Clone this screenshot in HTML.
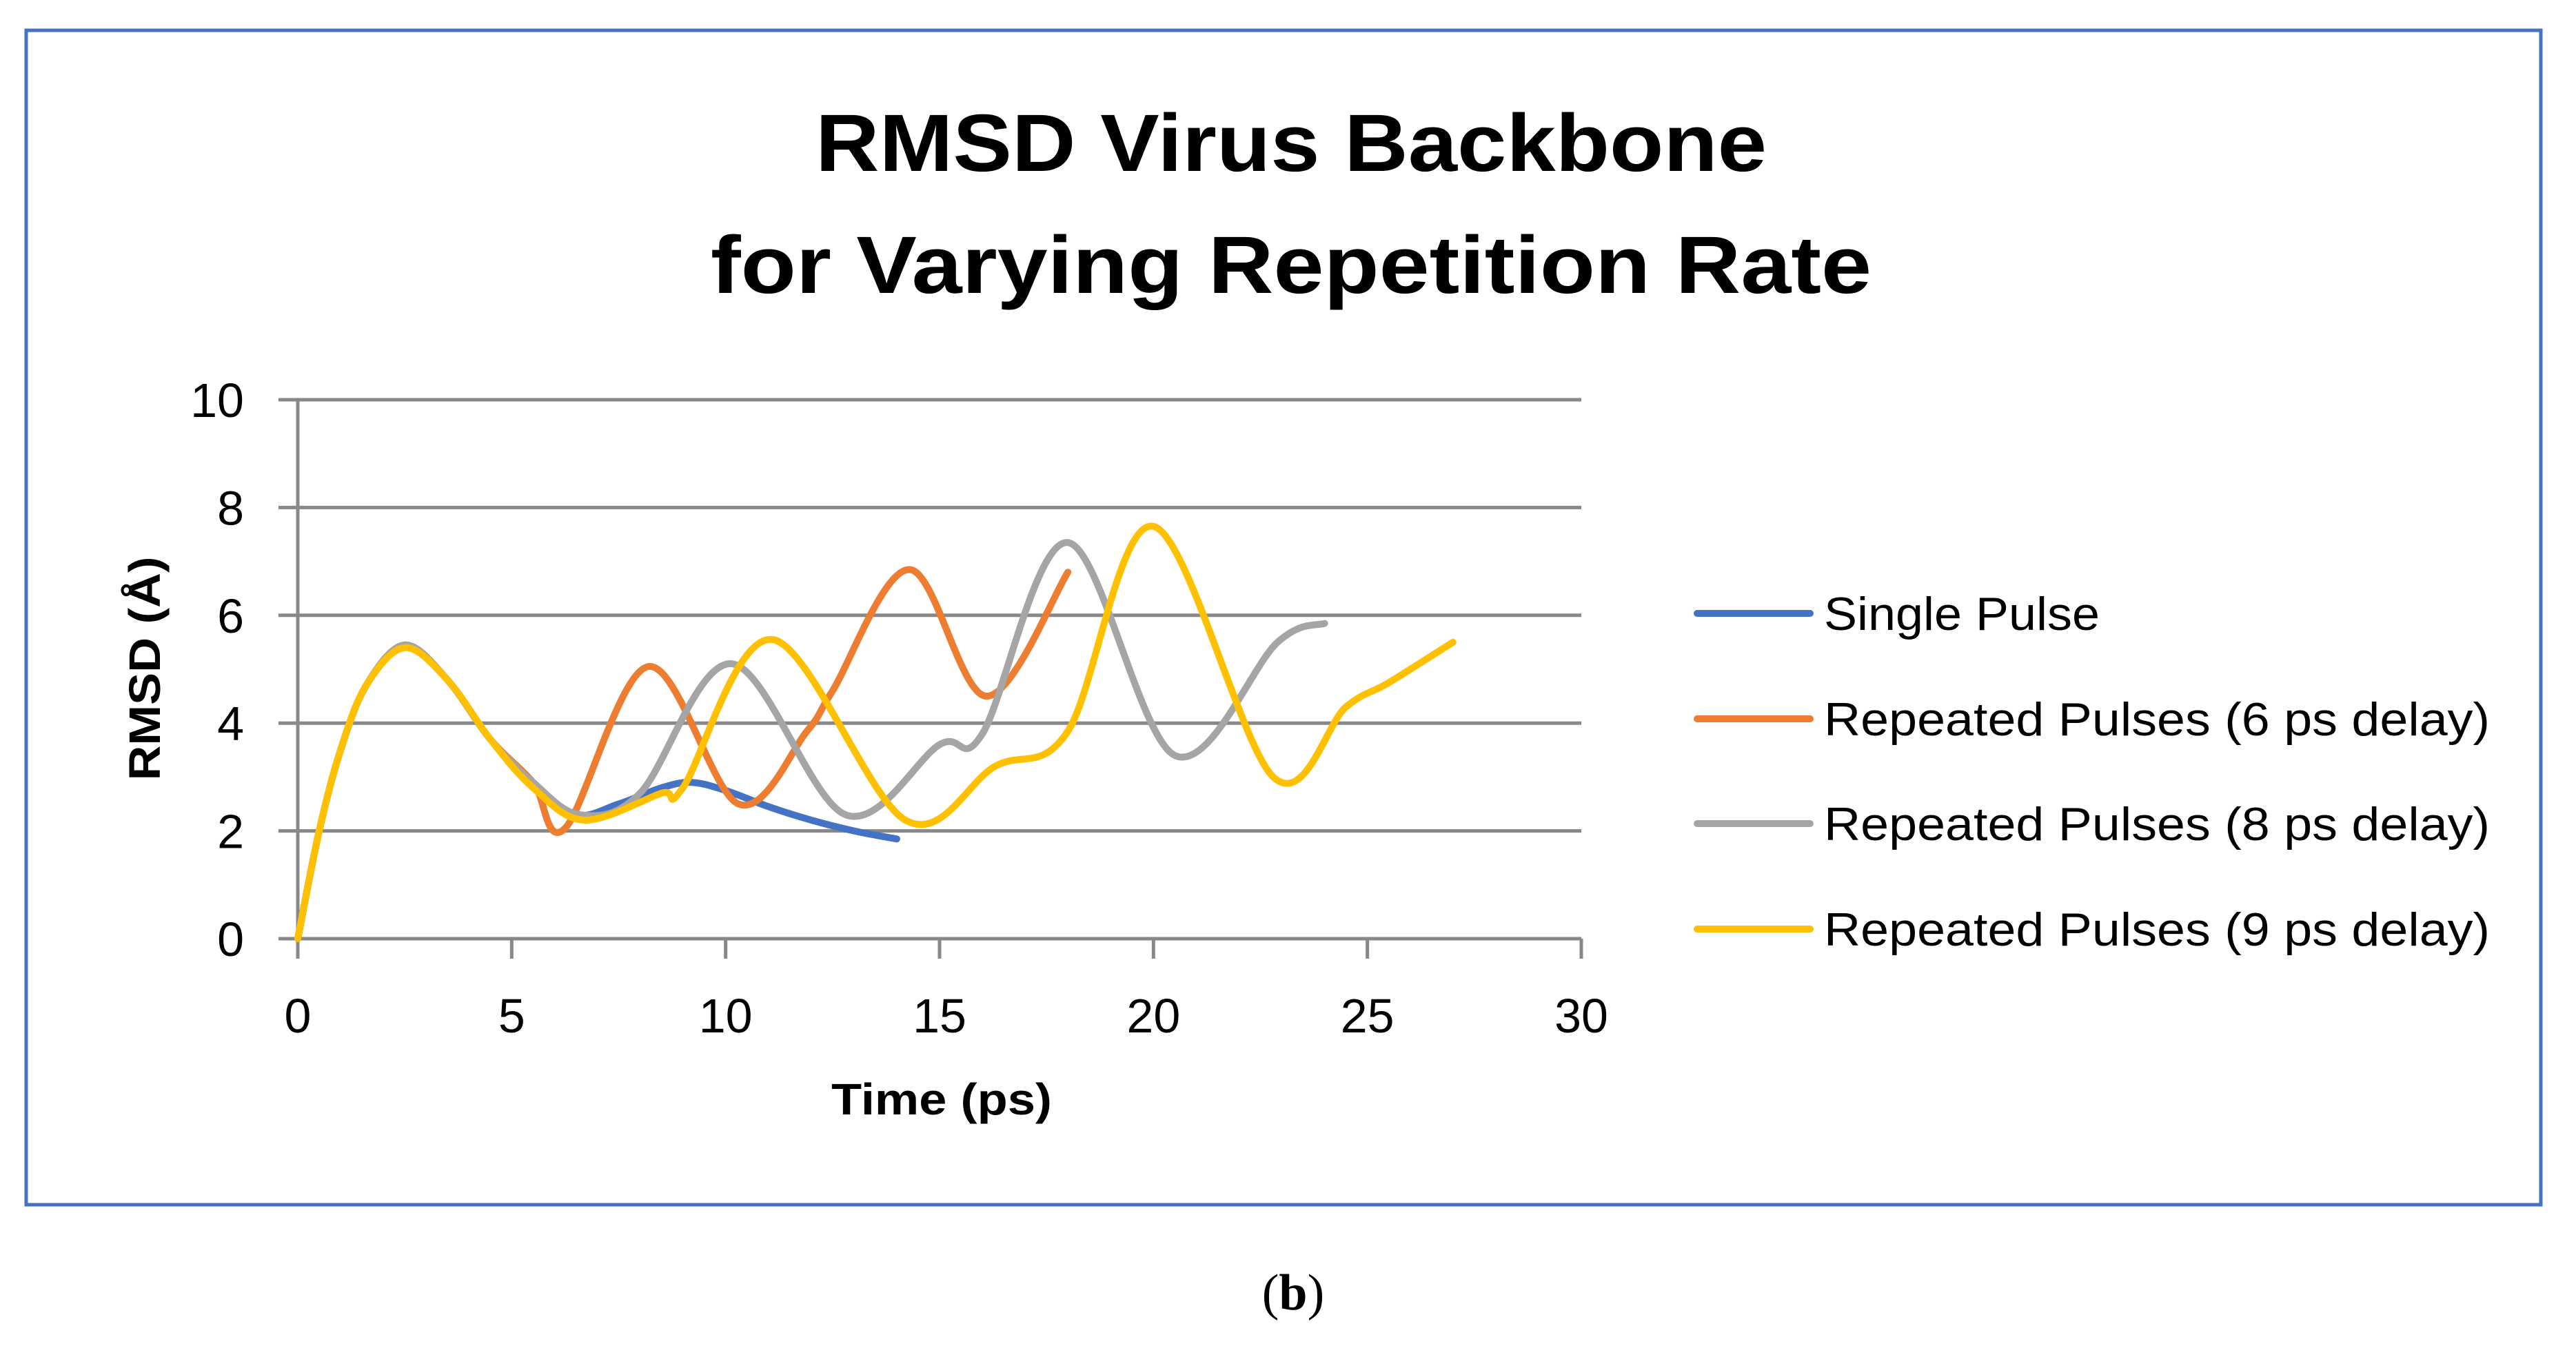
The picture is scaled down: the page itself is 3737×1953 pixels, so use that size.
<!DOCTYPE html>
<html><head><meta charset="utf-8"><style>
html,body{margin:0;padding:0;background:#fff;}
svg{display:block;}
</style></head><body>
<svg id="chart" width="3737" height="1953" viewBox="0 0 3737 1953" xmlns="http://www.w3.org/2000/svg">
<rect x="38" y="44" width="3648" height="1704" fill="#fff" stroke="#4472C4" stroke-width="5"/>
<text x="1873" y="248" text-anchor="middle" font-family="Liberation Sans, sans-serif" font-weight="bold" font-size="118" textLength="1380" lengthAdjust="spacingAndGlyphs">RMSD Virus Backbone</text>
<text x="1873" y="425" text-anchor="middle" font-family="Liberation Sans, sans-serif" font-weight="bold" font-size="118" textLength="1684" lengthAdjust="spacingAndGlyphs">for Varying Repetition Rate</text>
<g id="grid"></g>
<g id="series"></g>
<text x="1366" y="1617" text-anchor="middle" font-family="Liberation Sans, sans-serif" font-weight="bold" font-size="64" textLength="320" lengthAdjust="spacingAndGlyphs">Time (ps)</text>
<text transform="translate(232,970) rotate(-90)" text-anchor="middle" font-family="Liberation Sans, sans-serif" font-weight="bold" font-size="64" textLength="325" lengthAdjust="spacingAndGlyphs">RMSD (Å)</text>
<g id="legend"></g>
<text x="1876" y="1900" text-anchor="middle" font-family="Liberation Serif, serif" font-size="74">(<tspan font-weight="bold">b</tspan>)</text>
</svg>
<script>
const xTicks=[0,5,10,15,20,25,30];
const yTicks=[0,2,4,6,8,10];
const seriesNames=["Single Pulse","Repeated Pulses (6 ps delay)","Repeated Pulses (8 ps delay)","Repeated Pulses (9 ps delay)"];
const singleX=[0,0.5,1,1.6,2.5,3.5,4.5,5.5,6.5,7.5,8.5,9.2,10,11,12,13,14];
const singleY=[0,2.0,3.5,4.7,5.45,4.8,3.7,2.9,2.3,2.5,2.8,2.9,2.75,2.45,2.2,2.0,1.85];
const rep6X=[0,0.5,1,1.6,2.5,3.5,4.5,5.5,6.25,8.2,10.3,11.9,12.5,14.3,16.1,18];
const rep6Y=[0,2.0,3.5,4.7,5.45,4.8,3.7,2.9,2.05,5.05,2.5,3.85,4.6,6.85,4.5,6.8];
const rep8X=[0,0.5,1,1.6,2.5,3.5,4.5,5.5,6.6,8.0,10.15,12.8,15.0,16.0,18.0,20.5,22.9,24.0];
const rep8Y=[0,2.0,3.5,4.7,5.45,4.8,3.7,2.9,2.3,2.7,5.1,2.3,3.6,3.8,7.35,3.4,5.5,5.85];
const rep9X=[0,0.5,1,1.6,2.5,3.5,4.5,5.5,6.7,8.5,9.0,11.1,14.2,16.3,18.0,20.0,22.8,24.5,25.5,27.0];
const rep9Y=[0,2.0,3.5,4.7,5.4,4.8,3.7,2.8,2.2,2.7,2.8,5.55,2.2,3.2,3.85,7.65,3.0,4.3,4.75,5.5];
const colors=["#4472C4","#ED7D31","#A5A5A5","#FFC000"];
const NS="http://www.w3.org/2000/svg";
const X0=432,X1=2294,Y0=1362,Y1=580;
function sx(v){return X0+(v-0)/(30-0)*(X1-X0);}
function sy(v){return Y0-(v-0)/(10-0)*(Y0-Y1);}
function mk(tag,attrs,parent){const e=document.createElementNS(NS,tag);for(const k in attrs)e.setAttribute(k,attrs[k]);parent.appendChild(e);return e;}
const grid=document.getElementById('grid');
yTicks.forEach(t=>{
  const l=mk('line',{x1:X0-28,x2:X1,y1:sy(t),y2:sy(t),stroke:'#888',"stroke-width":5},grid);
  
  
  const tx=mk('text',{x:X0-78,y:sy(t)+25,"text-anchor":"end","font-family":"Liberation Sans, sans-serif","font-size":70,fill:'#000'},grid);
  tx.textContent=t;
  
  
});
const ax=mk('line',{x1:X0,x2:X0,y1:Y1,y2:Y0,stroke:'#888',"stroke-width":5},grid);


xTicks.forEach(t=>{
  const l=mk('line',{x1:sx(t),x2:sx(t),y1:Y0,y2:Y0+29,stroke:'#888',"stroke-width":5},grid);
  
  
  const tx=mk('text',{x:sx(t),y:1498,"text-anchor":"middle","font-family":"Liberation Sans, sans-serif","font-size":70,fill:'#000'},grid);
  tx.textContent=t;
  
  
});
function smooth(xs,ys){
  const p=xs.map((x,i)=>[sx(x),sy(ys[i])]);
  let d='M'+p[0][0]+','+p[0][1];
  for(let i=0;i<p.length-1;i++){
    const p0=p[i-1]||p[i],p1=p[i],p2=p[i+1],p3=p[i+2]||p2;
    const c1=[p1[0]+(p2[0]-p0[0])/6,p1[1]+(p2[1]-p0[1])/6];
    const c2=[p2[0]-(p3[0]-p1[0])/6,p2[1]-(p3[1]-p1[1])/6];
    d+=' C'+c1[0]+','+c1[1]+' '+c2[0]+','+c2[1]+' '+p2[0]+','+p2[1];
  }
  return d;
}
const sg=document.getElementById('series');
const data=[[singleX,singleY],[rep6X,rep6Y],[rep8X,rep8Y],[rep9X,rep9Y]];
const slugs=['single-pulse','repeated-6ps','repeated-8ps','repeated-9ps'];
data.forEach((s,i)=>{
  const p=mk('path',{d:smooth(s[0],s[1]),fill:'none',stroke:colors[i],"stroke-width":10,"stroke-linecap":"round","stroke-linejoin":"round"},sg);
  
  
});
const lg=document.getElementById('legend');
const rowsY=[890,1043,1195,1348];
seriesNames.forEach((n,i)=>{
  const l=mk('line',{x1:2462,x2:2626,y1:rowsY[i],y2:rowsY[i],stroke:colors[i],"stroke-width":10,"stroke-linecap":"round"},lg);
  
  
  const t=mk('text',{x:2646,y:rowsY[i]+24,"font-family":"Liberation Sans, sans-serif","font-size":68,fill:'#000'},lg);
  t.textContent=n;
  if(i>0){t.setAttribute('textLength',966);t.setAttribute('lengthAdjust','spacingAndGlyphs');}
  else{t.setAttribute('textLength',400);t.setAttribute('lengthAdjust','spacingAndGlyphs');}
  
  
});
</script>
</body></html>
